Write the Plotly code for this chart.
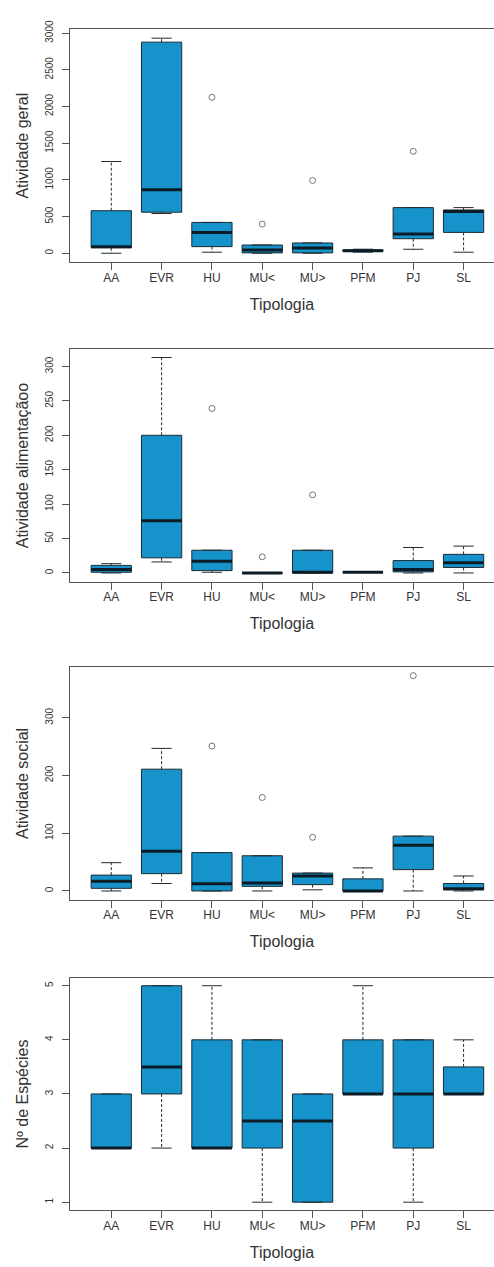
import plotly.graph_objects as go

# Typology categories (x axis)
categories = ["AA", "EVR", "HU", "MU<", "MU>", "PFM", "PJ", "SL"]

# Box statistics per panel: lower whisker, Q1, median, Q3, upper whisker, outliers
geral_lo = [0, 541, 14, 0, 0, 15, 54, 14]
geral_q1 = [75, 559, 90, 5, 5, 25, 198, 284]
geral_med = [90, 866, 284, 45, 72, 35, 262, 568]
geral_q3 = [580, 2877, 420, 112, 140, 45, 622, 590]
geral_hi = [1250, 2931, 420, 112, 140, 55, 622, 622]
geral_out = [[], [], [2125], [397], [992], [], [1389], []]

alim_lo = [0, 16, 1, 0, 0, 1, 0, 0]
alim_q1 = [1, 22, 3.4, 0, 0, 1, 1.5, 8]
alim_med = [5, 76, 17, 0, 1, 1, 5, 15]
alim_q3 = [11, 200, 33, 0, 33, 1, 18, 27]
alim_hi = [13.5, 313, 33, 0, 33, 1, 37, 39]
alim_out = [[], [], [239], [23.5], [113.5], [], [], []]

social_lo = [0, 13, 0, 0, 2, 0, 0, 0]
social_q1 = [4.6, 30, 0, 8, 11, 0, 37, 2]
social_med = [17, 69, 12.6, 14, 26, 0, 79, 4]
social_q3 = [27.5, 211, 66.5, 61, 31, 21, 95, 13]
social_hi = [49, 247, 66.5, 61, 31, 40, 95, 26]
social_out = [[], [], [251], [162], [93], [], [373], []]

esp_lo = [2, 2, 2, 1, 1, 3, 1, 3]
esp_q1 = [2, 3, 2, 2, 1, 3, 2, 3]
esp_med = [2, 3.5, 2, 2.5, 2.5, 3, 3, 3]
esp_q3 = [3, 5, 4, 4, 3, 4, 4, 3.5]
esp_hi = [3, 5, 5, 4, 3, 5, 4, 4]
esp_out = [[], [], [], [], [], [], [], []]

# Y axis labels and tick values per panel
y_titles = ["Atividade geral", "Atividade alimentaçãoo", "Atividade social", "Nº de Espécies"]
y_ticks = [
    [0, 500, 1000, 1500, 2000, 2500, 3000],
    [0, 50, 100, 150, 200, 250, 300],
    [0, 100, 200, 300],
    [1, 2, 3, 4, 5],
]
y_ranges = [[-126, 3058], [-13, 325], [-15.5, 388], [0.848, 5.147]]

panels = [
    (geral_lo, geral_q1, geral_med, geral_q3, geral_hi, geral_out),
    (alim_lo, alim_q1, alim_med, alim_q3, alim_hi, alim_out),
    (social_lo, social_q1, social_med, social_q3, social_hi, social_out),
    (esp_lo, esp_q1, esp_med, esp_q3, esp_hi, esp_out),
]

W, H = 494, 1267
# pixel extents (top, bottom) of each plotting frame
frames_px = [(20, 255.3), (342.7, 577), (662.7, 897.3), (975.7, 1210)]
left_px = 70

FILL = "#1793cb"
EDGE = "#1e2b33"
MED = "#0b1c26"
TXT = "#333333"
AX = "#555555"
HALF = 0.4     # half box width
STAPLE = 0.2   # half staple width
x_per_px = 1 / 50.33
x_min = 0.18
x_max = x_min + (W - left_px) * x_per_px

fig = go.Figure()
layout = dict(
    width=W, height=H,
    margin=dict(l=0, r=0, t=0, b=0),
    paper_bgcolor="white", plot_bgcolor="white",
    showlegend=False,
    font=dict(family="Liberation Sans, Arial, sans-serif", color=TXT),
)

for k, (lo, q1, med, q3, hi, outs) in enumerate(panels):
    xa = "x" if k == 0 else f"x{k+1}"
    ya = "y" if k == 0 else f"y{k+1}"
    xs = list(range(1, len(categories) + 1))

    # boxes
    bx, by = [], []
    for i, a, b in zip(xs, q1, q3):
        bx += [i - HALF, i + HALF, i + HALF, i - HALF, i - HALF, None]
        by += [a, a, b, b, a, None]
    fig.add_trace(go.Scatter(x=bx, y=by, mode="lines", fill="toself",
                             fillcolor=FILL, line=dict(color=EDGE, width=1),
                             hoverinfo="skip", xaxis=xa, yaxis=ya))

    # dashed whiskers
    wx, wy = [], []
    for i, l, a, b, h in zip(xs, lo, q1, q3, hi):
        if h > b:
            wx += [i, i, None]
            wy += [b, h, None]
        if l < a:
            wx += [i, i, None]
            wy += [a, l, None]
    fig.add_trace(go.Scatter(x=wx, y=wy, mode="lines",
                             line=dict(color=EDGE, width=1, dash="3px,2px"),
                             hoverinfo="skip", xaxis=xa, yaxis=ya))

    # staples
    sx, sy = [], []
    for i, l, h in zip(xs, lo, hi):
        sx += [i - STAPLE, i + STAPLE, None, i - STAPLE, i + STAPLE, None]
        sy += [l, l, None, h, h, None]
    fig.add_trace(go.Scatter(x=sx, y=sy, mode="lines",
                             line=dict(color=EDGE, width=1),
                             hoverinfo="skip", xaxis=xa, yaxis=ya))

    # medians
    mx, my = [], []
    for i, m in zip(xs, med):
        mx += [i - HALF, i + HALF, None]
        my += [m, m, None]
    fig.add_trace(go.Scatter(x=mx, y=my, mode="lines",
                             line=dict(color=MED, width=3),
                             hoverinfo="skip", xaxis=xa, yaxis=ya))

    # outliers
    ox, oy = [], []
    for i, vals in zip(xs, outs):
        for v in vals:
            ox.append(i)
            oy.append(v)
    fig.add_trace(go.Scatter(x=ox, y=oy, mode="markers",
                             marker=dict(symbol="circle-open", size=6,
                                         color="#777777", line=dict(width=1)),
                             hoverinfo="skip", xaxis=xa, yaxis=ya))

    top, bot = frames_px[k]
    xkey = "xaxis" if k == 0 else f"xaxis{k+1}"
    ykey = "yaxis" if k == 0 else f"yaxis{k+1}"
    layout[xkey] = dict(
        domain=[left_px / W, 1], anchor=ya, range=[x_min, x_max],
        tickmode="array", tickvals=xs, ticktext=categories,
        ticks="outside", ticklen=7, tickcolor=AX, tickwidth=1,
        showline=True, linecolor=AX, linewidth=1, mirror=True,
        showgrid=False, zeroline=False,
        tickfont=dict(size=12, color=TXT), ticklabelstandoff=-3,
        title=dict(text="Tipologia", font=dict(size=16, color=TXT), standoff=14),
    )
    layout[ykey] = dict(
        domain=[1 - bot / H, 1 - top / H], anchor=xa, range=y_ranges[k],
        tickmode="array", tickvals=y_ticks[k],
        ticks="outside", ticklen=7, tickcolor=AX, tickwidth=1,
        showline=True, linecolor=AX, linewidth=1,
        showgrid=False, zeroline=False, tickangle=-90,
        tickfont=dict(size=10, color=TXT), ticklabelstandoff=5,
        title=dict(text=y_titles[k], font=dict(size=16, color=TXT), standoff=11),
    )

fig.update_layout(**layout)
fig.write_html("out.html")
